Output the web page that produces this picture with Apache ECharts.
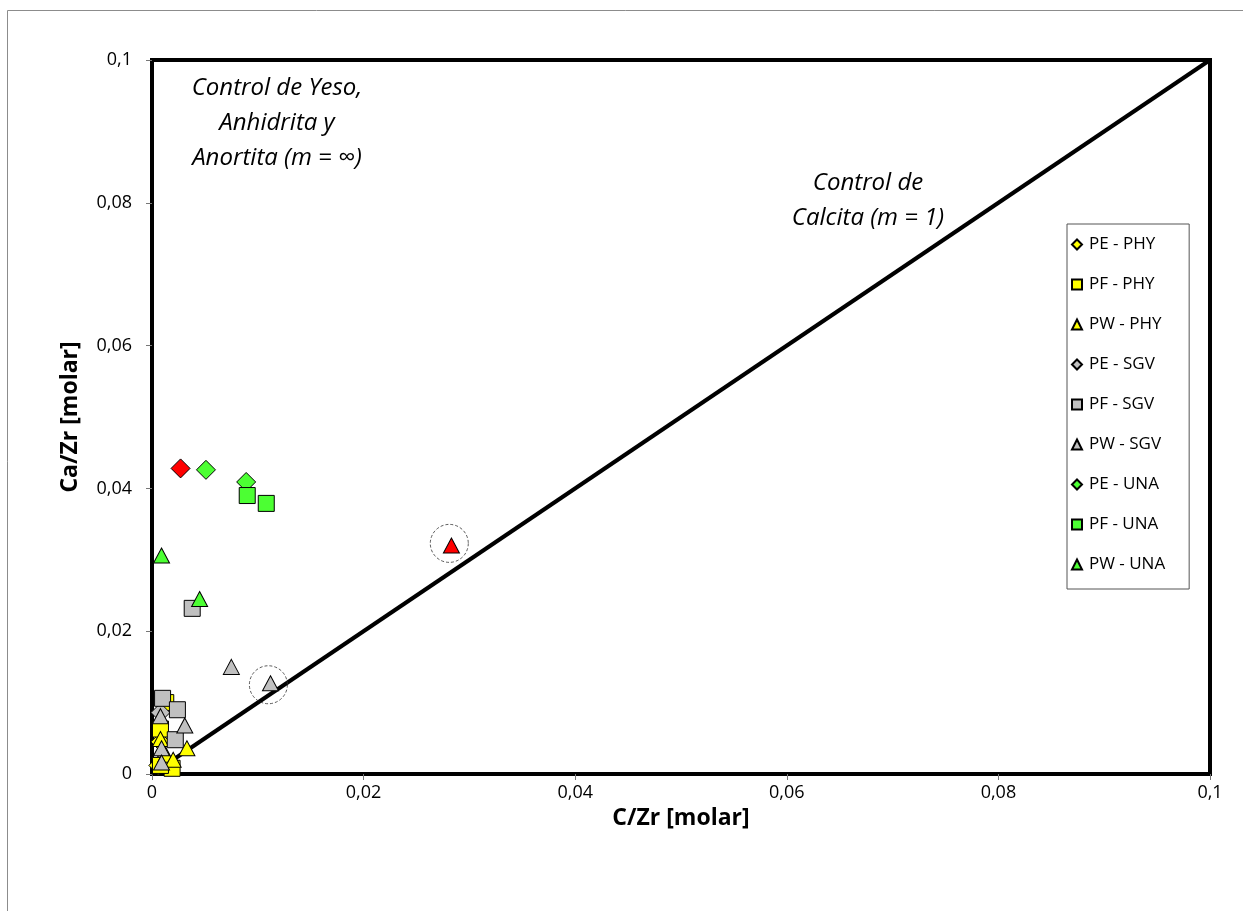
<!DOCTYPE html>
<html>
<head>
<meta charset="utf-8">
<title>Ca/Zr vs C/Zr</title>
<script src="https://cdn.jsdelivr.net/npm/echarts@6/dist/echarts.min.js"></script>
<style>
  html, body { margin: 0; padding: 0; background: #fff; }
  #chart { width: 1243px; height: 911px; }
</style>
</head>
<body>
<div id="chart"></div>
<script>
// Molar ratios [C/Zr, Ca/Zr] per group
const pePHY = [[0.0008, 0.0045], [0.0006, 0.0012]];
const pfPHY = [[0.0013, 0.0100], [0.0008, 0.0063], [0.0019, 0.0008], [0.0008, 0.0012]];
const pwPHY = [[0.0033, 0.0036], [0.0008, 0.0049], [0.0013, 0.0027], [0.0020, 0.0020]];
const peSGV = [[0.0008, 0.0086]];
const pfSGV = [[0.0038, 0.0232], [0.0010, 0.0106], [0.0024, 0.0090], [0.0022, 0.0048]];
const pwSGV = [[0.0075, 0.0150], [0.0112, 0.0127], [0.0008, 0.0081], [0.0031, 0.0068], [0.0009, 0.0036], [0.0009, 0.0016]];
const peUNA = [[0.0051, 0.0426], [0.0089, 0.0409]];
const pfUNA = [[0.0090, 0.0390], [0.0108, 0.0379]];
const pwUNA = [[0.0009, 0.0306], [0.0045, 0.0245]];
// Highlighted samples (drawn in red)
const peUNAred = [[0.0027, 0.0428]];
const pwUNAred = [[0.0283, 0.0320]];
// Samples ringed by a dashed circle
const ringed = [[0.0281, 0.0323], [0.0110, 0.0125]];
// Calcite control line, m = 1
const calciteLine = [[0, 0], [0.1, 0.1]];
const axisTicks = { min: 0, max: 0.1, interval: 0.02 };

const YELLOW = '#FFFF00', GREY = '#C0C0C0', GREEN = '#4CFF33', RED = '#FF0000';
const FONT = '"Open Sans", Lato, sans-serif';

function marker(name, data, symbol, size, color) {
  return {
    name: name,
    type: 'scatter',
    data: data,
    symbol: symbol,
    symbolSize: size,
    itemStyle: { color: color, borderColor: '#000', borderWidth: 1, opacity: 1 },
    z: 5
  };
}

const diamond = [19, 19], square = [16, 16], triangle = [16, 15];

const series = [
  {
    name: 'calcite',
    type: 'line',
    data: calciteLine,
    symbol: 'none',
    lineStyle: { color: '#000', width: 4 },
    silent: true,
    z: 4
  },
  marker('PE - PHY', pePHY, 'diamond', diamond, YELLOW),
  marker('PF - PHY', pfPHY, 'rect', square, YELLOW),
  marker('PW - PHY', pwPHY, 'triangle', triangle, YELLOW),
  marker('PE - SGV', peSGV, 'diamond', diamond, GREY),
  marker('PF - SGV', pfSGV, 'rect', square, GREY),
  marker('PW - SGV', pwSGV, 'triangle', triangle, GREY),
  marker('PE - UNA', peUNA.concat(peUNAred.map(p => ({ value: p, itemStyle: { color: RED } }))), 'diamond', diamond, GREEN),
  marker('PF - UNA', pfUNA, 'rect', square, GREEN),
  marker('PW - UNA', pwUNA.concat(pwUNAred.map(p => ({ value: p, itemStyle: { color: RED } }))), 'triangle', triangle, GREEN),
  {
    name: 'ring',
    type: 'scatter',
    data: ringed,
    symbol: 'circle',
    symbolSize: 38,
    itemStyle: { color: 'none', borderColor: '#333', borderWidth: 1, borderType: [3, 2] },
    silent: true,
    z: 6
  }
];

const tickFmt = v => String(+(+v).toFixed(2)).replace('.', ',');

const option = {
  animation: false,
  backgroundColor: '#fff',
  textStyle: { fontFamily: FONT },
  grid: {
    left: 152, right: 33, top: 60, bottom: 137,
    show: true, borderColor: '#000', borderWidth: 4, backgroundColor: 'transparent'
  },
  xAxis: {
    type: 'value',
    min: axisTicks.min, max: axisTicks.max, interval: axisTicks.interval,
    name: 'C/Zr [molar]',
    nameLocation: 'middle',
    nameGap: 28,
    nameTextStyle: { fontFamily: FONT, fontSize: 23, fontWeight: 'bold', color: '#000' },
    axisLine: { show: false },
    axisTick: { show: true, length: 6, lineStyle: { color: '#777', width: 1 } },
    axisLabel: { formatter: tickFmt, fontFamily: FONT, fontSize: 18, color: '#000', margin: 10 },
    splitLine: { show: false }
  },
  yAxis: {
    type: 'value',
    min: axisTicks.min, max: axisTicks.max, interval: axisTicks.interval,
    name: 'Ca/Zr [molar]',
    nameLocation: 'middle',
    nameGap: 70,
    nameTextStyle: { fontFamily: FONT, fontSize: 23, fontWeight: 'bold', color: '#000' },
    axisLine: { show: false },
    axisTick: { show: true, length: 6, lineStyle: { color: '#777', width: 1 } },
    axisLabel: { formatter: tickFmt, fontFamily: FONT, fontSize: 18, color: '#000', margin: 20 },
    splitLine: { show: false }
  },
  legend: {
    orient: 'vertical',
    left: 1067, top: 224,
    padding: [12, 24, 16, 4],
    itemGap: 23,
    itemWidth: 10, itemHeight: 10,
    borderColor: '#555', borderWidth: 1,
    backgroundColor: '#fff',
    textStyle: { fontFamily: FONT, fontSize: 17, color: '#000', padding: [0, 0, 0, 2] },
    data: ['PE - PHY', 'PF - PHY', 'PW - PHY', 'PE - SGV', 'PF - SGV', 'PW - SGV', 'PE - UNA', 'PF - UNA', 'PW - UNA']
  },
  graphic: [
    {
      type: 'rect',
      shape: { x: 7.5, y: 10.5, width: 1400, height: 1000 },
      style: { fill: 'none', stroke: '#8c8c8c', lineWidth: 1 },
      silent: true, z: -10
    },
    {
      type: 'text',
      x: 277, y: 71,
      style: {
        text: 'Control de Yeso,\nAnhidrita y\nAnortita (m = \u221E)',
        font: 'italic 24px ' + FONT,
        fill: '#000',
        align: 'center',
        verticalAlign: 'top',
        lineHeight: 35
      },
      z: 10
    },
    {
      type: 'text',
      x: 868, y: 166,
      style: {
        text: 'Control de\nCalcita (m = 1)',
        font: 'italic 24px ' + FONT,
        fill: '#000',
        align: 'center',
        verticalAlign: 'top',
        lineHeight: 35
      },
      z: 10
    }
  ],
  series: series
};

const chart = echarts.init(document.getElementById('chart'), null, { renderer: 'canvas' });
chart.setOption(option);
</script>
</body>
</html>
